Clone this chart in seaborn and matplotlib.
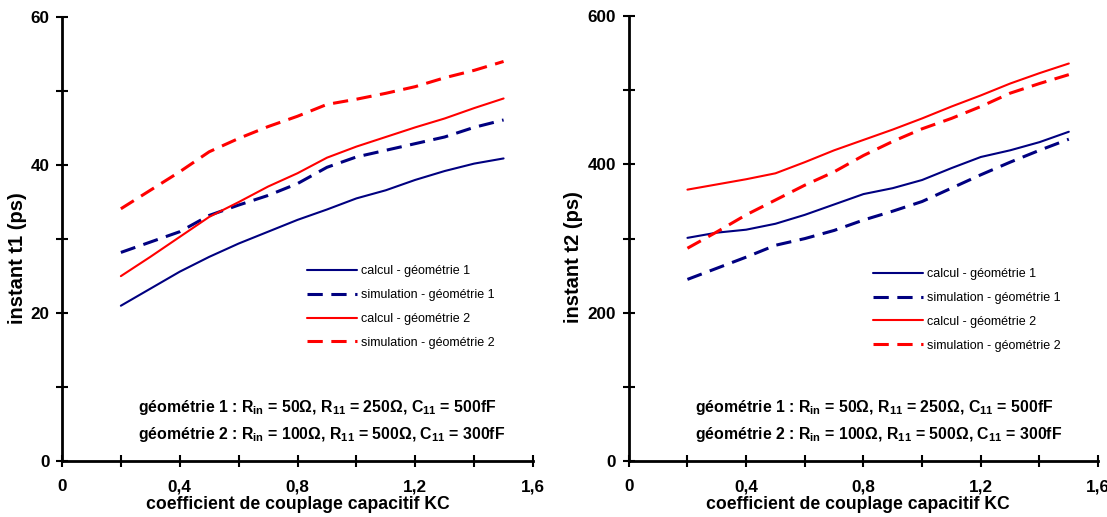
import numpy as np
import pandas as pd
import matplotlib
matplotlib.use("Agg")
import matplotlib.pyplot as plt
import seaborn as sns
from matplotlib.ticker import MultipleLocator, FuncFormatter

# coefficient de couplage capacitif KC
kc = [0.2, 0.3, 0.4, 0.5, 0.6, 0.7, 0.8, 0.9, 1.0, 1.1, 1.2, 1.3, 1.4, 1.5]

# instant t1 (ps)
t1_calc_g1 = [21.0, 23.3, 25.6, 27.6, 29.4, 31.0, 32.6, 34.0, 35.5, 36.6, 38.0, 39.2, 40.2, 40.9]
t1_sim_g1 = [28.2, 29.6, 31.0, 33.2, 34.6, 35.9, 37.5, 39.7, 41.1, 42.0, 42.9, 43.8, 45.1, 46.1]
t1_calc_g2 = [25.0, 27.6, 30.3, 33.0, 35.0, 37.1, 38.9, 41.0, 42.5, 43.8, 45.1, 46.3, 47.7, 49.0]
t1_sim_g2 = [34.1, 36.6, 39.1, 41.8, 43.6, 45.2, 46.6, 48.2, 48.9, 49.7, 50.6, 51.8, 52.8, 54.0]

# instant t2 (ps)
t2_calc_g1 = [301, 308, 312, 320, 332, 346, 360, 368, 379, 395, 410, 419, 430, 444]
t2_sim_g1 = [245, 260, 275, 291, 300, 311, 325, 337, 350, 368, 386, 403, 419, 434]
t2_calc_g2 = [366, 373, 380, 388, 403, 419, 433, 447, 462, 478, 493, 509, 523, 536]
t2_sim_g2 = [287, 309, 332, 352, 372, 390, 412, 431, 448, 462, 478, 496, 509, 521]

labels = ["calcul - géométrie 1", "simulation - géométrie 1",
          "calcul - géométrie 2", "simulation - géométrie 2"]

note = ("géométrie 1 : R$_{\\mathregular{in}}$ = 50Ω, R$_{\\mathregular{11}}$ = 250Ω, "
        "C$_{\\mathregular{11}}$ = 500fF\n"
        "géométrie 2 : R$_{\\mathregular{in}}$ = 100Ω, R$_{\\mathregular{11}}$ = 500Ω, "
        "C$_{\\mathregular{11}}$ = 300fF")

sns.set_style("white")
plt.rcParams['font.family'] = ['Liberation Sans', 'DejaVu Sans']
plt.rcParams['mathtext.fontset'] = 'custom'
plt.rcParams['mathtext.rm'] = 'Liberation Sans'
plt.rcParams['text.color'] = 'black'

colors = ["#000080", "#000080", "#FF0000", "#FF0000"]
styles = ["-", (0, (5, 2.8)), "-", (0, (5, 2.8))]
widths = [1.5, 2.2, 1.5, 2.2]


def comma(v, pos):
    return ("%g" % v).replace(".", ",")


def draw(ax, series, ylab, ymax, ystep, legend_anchor, note_x, ylab_xy, xlab_x):
    for vals, lab, c, ls, lw in zip(series, labels, colors, styles, widths):
        df = pd.DataFrame({"KC": kc, "t": vals})
        sns.lineplot(data=df, x="KC", y="t", ax=ax, color=c, lw=lw,
                     linestyle=ls, label=lab)
    ax.set_xlim(0, 1.6)
    ax.set_ylim(0, ymax)
    ax.xaxis.set_major_locator(MultipleLocator(0.4))
    ax.xaxis.set_minor_locator(MultipleLocator(0.2))
    ax.yaxis.set_major_locator(MultipleLocator(ystep * 2))
    ax.yaxis.set_minor_locator(MultipleLocator(ystep))
    ax.xaxis.set_major_formatter(FuncFormatter(comma))
    ax.tick_params(which="both", bottom=True, left=True, direction="inout",
                   length=8, width=1.5, color="black", labelsize=12.3,
                   labelcolor="black")
    ax.tick_params(axis="x", pad=9)
    ax.tick_params(axis="y", pad=5)
    for t in ax.get_xticklabels() + ax.get_yticklabels():
        t.set_fontweight("bold")
    sns.despine(ax=ax)
    for sp in ("left", "bottom"):
        ax.spines[sp].set_linewidth(2)
        ax.spines[sp].set_color("black")
    ax.set_xlabel("coefficient de couplage capacitif KC", fontsize=12.7,
                  fontweight="bold", color="black")
    ax.set_ylabel(ylab, fontsize=14.5, fontweight="bold", color="black")
    ax.xaxis.set_label_coords(xlab_x, -0.079)
    ax.yaxis.set_label_coords(ylab_xy[0], ylab_xy[1])
    ax.legend(loc="center left", bbox_to_anchor=legend_anchor, frameon=False,
              fontsize=9, handlelength=4.0, handletextpad=0.3,
              labelspacing=0.95, labelcolor="black")
    ax.text(note_x, 0.091, note, transform=ax.transAxes, fontsize=11.4,
            fontweight="bold", linespacing=1.55, va="center", color="black")


fig = plt.figure(figsize=(11.07, 5.17), dpi=100)
ax1 = fig.add_axes([0.056, 0.108, 0.4815 - 0.056, 0.967 - 0.108])
ax2 = fig.add_axes([0.568, 0.108, 0.992 - 0.568, 0.969 - 0.108])

draw(ax1, [t1_calc_g1, t1_sim_g1, t1_calc_g2, t1_sim_g2],
     "instant t1 (ps)", 60, 10, (0.497, 0.347), 0.161, (-0.075, 0.457), 0.5)
draw(ax2, [t2_calc_g1, t2_sim_g1, t2_calc_g2, t2_sim_g2],
     "instant t2 (ps)", 600, 100, (0.497, 0.34), 0.141, (-0.097, 0.458), 0.488)

fig.savefig("out.png", dpi=100)
